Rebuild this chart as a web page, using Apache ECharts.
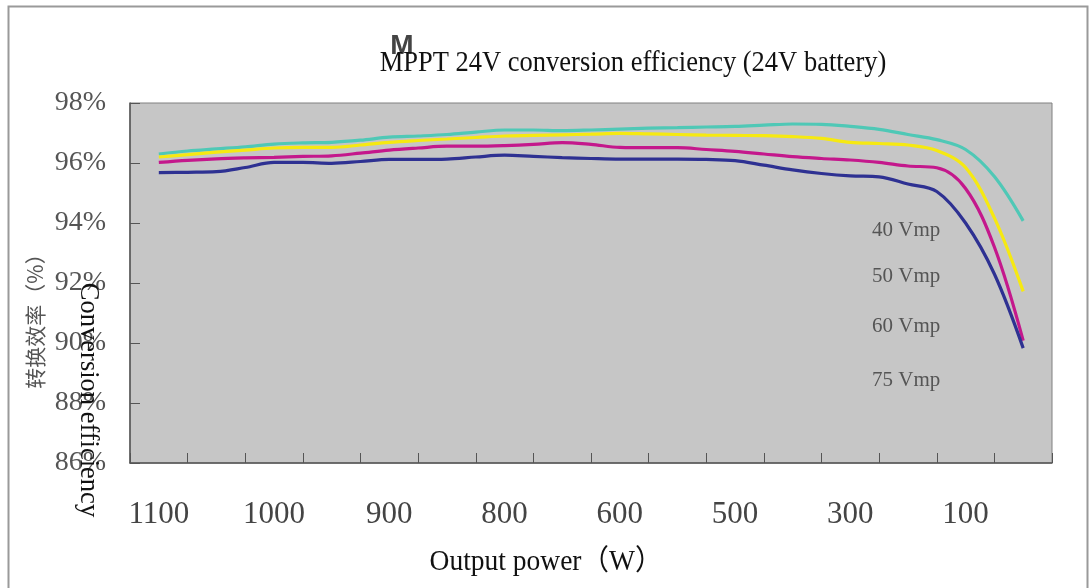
<!DOCTYPE html>
<html>
<head>
<meta charset="utf-8">
<script src="https://cdn.jsdelivr.net/npm/echarts@6/dist/echarts.min.js"></script>
<style>html,body{margin:0;padding:0;background:#fff;}#c{width:1089px;height:588px;}</style>
</head>
<body>
<div id="c"></div>
<script>
// X tick labels (category bands, every other band labelled)
var xLabels = ['1100','','1000','','900','','800','','600','','500','','300','','100',''];
// Y axis range (%)
var yMin = 86, yMax = 98, yStep = 2;
// Series names
var seriesNames = ['40 Vmp','50 Vmp','60 Vmp','75 Vmp'];
// Efficiency (%) sampled at every half band, from 1100 W to the right end
var eff40 = [96.30,96.40,96.47,96.54,96.63,96.67,96.69,96.76,96.86,96.90,96.95,97.03,97.10,97.10,97.08,97.10,97.13,97.16,97.18,97.20,97.22,97.26,97.30,97.29,97.22,97.12,96.95,96.78,96.45,95.55,94.07];
var eff50 = [96.20,96.28,96.36,96.43,96.50,96.52,96.52,96.60,96.69,96.75,96.80,96.85,96.90,96.92,96.94,96.96,96.99,96.97,96.95,96.93,96.92,96.91,96.88,96.82,96.69,96.65,96.60,96.42,95.85,94.17,91.72];
var eff60 = [96.02,96.09,96.14,96.17,96.19,96.22,96.24,96.33,96.43,96.50,96.56,96.56,96.58,96.62,96.68,96.62,96.52,96.51,96.51,96.45,96.39,96.30,96.21,96.15,96.10,96.02,95.90,95.84,95.15,93.20,90.08];
var eff75 = [95.68,95.69,95.71,95.85,96.02,96.02,95.99,96.05,96.12,96.12,96.13,96.20,96.26,96.22,96.18,96.15,96.13,96.13,96.13,96.12,96.08,95.93,95.77,95.65,95.57,95.54,95.30,95.05,94.00,92.30,89.83];
var colors = ['#4fc8b6','#f6e911','#c4188c','#2e3192'];

var chart = echarts.init(document.getElementById('c'));
var allData = [eff40, eff50, eff60, eff75];
var series = allData.map(function (arr, k) {
  return {
    name: seriesNames[k],
    type: 'line',
    xAxisIndex: 1,
    smooth: 0.35,
    showSymbol: false,
    lineStyle: {color: colors[k], width: 3.2},
    itemStyle: {color: colors[k]},
    data: arr.map(function (v, i) { return [i, v]; }),
    z: 5
  };
});

var serif = '"Liberation Serif", "Times New Roman", serif';
chart.setOption({
  animation: false,
  backgroundColor: '#ffffff',
  grid: {left: 130, right: 37, top: 103, bottom: 125, show: true, z: 0,
         backgroundColor: '#c6c6c6', borderColor: '#808080', borderWidth: 1},
  xAxis: [{
    type: 'category', data: xLabels, boundaryGap: true, z: 10,
    axisLine: {onZero: false, lineStyle: {color: '#555', width: 1.5}},
    axisTick: {show: true, inside: true, length: 10, interval: 0, lineStyle: {color: '#555', width: 1}},
    axisLabel: {interval: 0, color: '#444', fontFamily: serif, fontSize: 31, margin: 36},
    splitLine: {show: false}
  }, {
    type: 'value', min: -1, max: 31, show: false
  }],
  yAxis: {
    type: 'value', min: yMin, max: yMax, interval: yStep, z: 10,
    axisLine: {show: true, onZero: false, lineStyle: {color: '#555', width: 1.5}},
    axisTick: {show: true, inside: true, length: 10, lineStyle: {color: '#555', width: 1}},
    axisLabel: {formatter: '{value}%', color: '#555', fontFamily: serif, fontSize: 28, margin: 24},
    splitLine: {show: false}
  },
  graphic: [
    {type: 'rect', left: 6, top: 4, shape: {width: 1079, height: 620}, style: {fill: 'none', stroke: '#9a9a9a', lineWidth: 2}, z: 100, silent: true},
    {type: 'text', x: 633, y: 63, scaleY: 1.1, style: {text: 'MPPT 24V conversion efficiency (24V battery)', fontFamily: serif, fontSize: 26.5, fill: '#111', align: 'center', verticalAlign: 'middle'}, z: 100},
    {type: 'text', x: 402, y: 46, style: {text: 'M', fontFamily: '"Liberation Sans", Arial, sans-serif', fontWeight: 'bold', fontSize: 28, fill: '#444', align: 'center', verticalAlign: 'middle'}, z: 99},
    {type: 'text', x: 546, y: 562, scaleY: 1.05, style: {text: 'Output power（W）', fontFamily: serif + ', "Noto Sans CJK SC"', fontSize: 27.5, fill: '#111', align: 'center', verticalAlign: 'middle'}, z: 100},
    {type: 'text', x: 35, y: 316, rotation: Math.PI / 2, style: {text: '转换效率（%）', fontFamily: '"Noto Sans CJK SC", sans-serif', fontSize: 21, fill: '#555', align: 'center', verticalAlign: 'middle'}, z: 100},
    {type: 'text', x: 88, y: 400, rotation: -Math.PI / 2, style: {text: 'Conversion efficiency', fontFamily: serif, fontSize: 26.5, fill: '#111', align: 'center', verticalAlign: 'middle'}, z: 101},
    {type: 'text', x: 872, y: 230, style: {text: seriesNames[0], fontFamily: serif, fontSize: 21, fill: '#555', align: 'left', verticalAlign: 'middle'}, z: 100},
    {type: 'text', x: 872, y: 276, style: {text: seriesNames[1], fontFamily: serif, fontSize: 21, fill: '#555', align: 'left', verticalAlign: 'middle'}, z: 100},
    {type: 'text', x: 872, y: 326, style: {text: seriesNames[2], fontFamily: serif, fontSize: 21, fill: '#555', align: 'left', verticalAlign: 'middle'}, z: 100},
    {type: 'text', x: 872, y: 380, style: {text: seriesNames[3], fontFamily: serif, fontSize: 21, fill: '#555', align: 'left', verticalAlign: 'middle'}, z: 100}
  ],
  series: series
});
</script>
</body>
</html>
